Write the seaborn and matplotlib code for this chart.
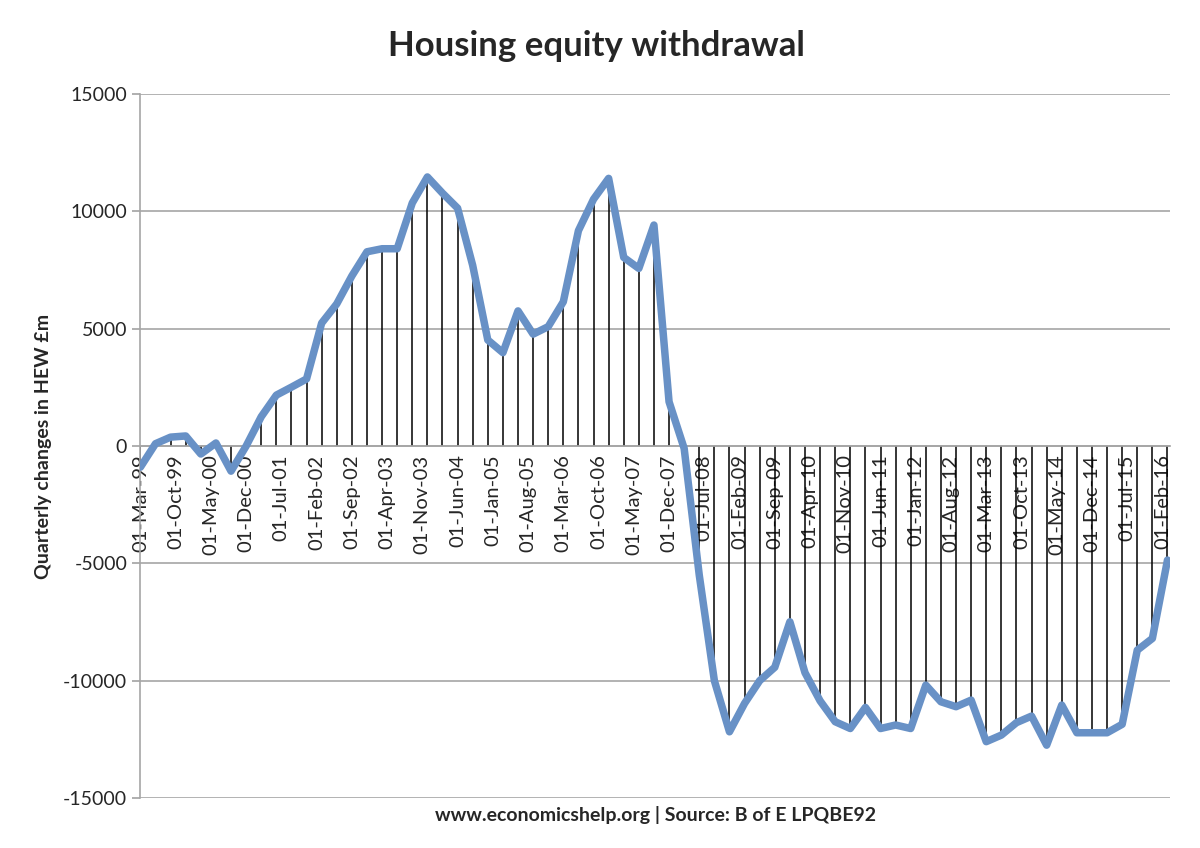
import numpy as np
import pandas as pd
import matplotlib
matplotlib.use("Agg")
import matplotlib.pyplot as plt
import seaborn as sns

sns.set_theme(style="white")
plt.rcParams["font.family"] = ["Lato", "DejaVu Sans"]
plt.rcParams["axes.unicode_minus"] = False

# Quarterly changes in housing equity withdrawal, £m (Mar-99 onwards)
hew_values = [
    -900, 100, 380, 430, -340, 130, -1070, 0, 1250, 2170,
    2510, 2860, 5240, 6060, 7250, 8280, 8410, 8410, 10360, 11470,
    10780, 10140, 7700, 4520, 3980, 5760, 4770, 5090, 6150, 9180,
    10520, 11410, 8040, 7570, 9420, 1890, -100, -5500, -10000, -12180,
    -10970, -10000, -9430, -7490, -9660, -10860, -11750, -12040, -11140, -12040,
    -11890, -12040, -10190, -10900, -11110, -10830, -12600, -12320, -11790, -11510,
    -12750, -11040, -12220, -12220, -12220, -11860, -8700, -8200, -4860,
]
# months since Mar-99, one point per quarter
months = [3 * i for i in range(len(hew_values))]

tick_labels = [
    "01-Mar-99", "01-Oct-99", "01-May-00", "01-Dec-00", "01-Jul-01", "01-Feb-02",
    "01-Sep-02", "01-Apr-03", "01-Nov-03", "01-Jun-04", "01-Jan-05", "01-Aug-05",
    "01-Mar-06", "01-Oct-06", "01-May-07", "01-Dec-07", "01-Jul-08", "01-Feb-09",
    "01-Sep-09", "01-Apr-10", "01-Nov-10", "01-Jun-11", "01-Jan-12", "01-Aug-12",
    "01-Mar-13", "01-Oct-13", "01-May-14", "01-Dec-14", "01-Jul-15", "01-Feb-16",
]
tick_months = [7 * i for i in range(len(tick_labels))]

df = pd.DataFrame({"month": months, "hew": hew_values})

fig = plt.figure(figsize=(12, 8.48), dpi=100)
ax = fig.add_axes([0.117, 0.059, 0.858, 0.830])

# category axis crosses at zero (set before ticks, it resets them)
ax.spines["bottom"].set_position(("data", 0))
ax.spines["bottom"].set_color("#a6a6a6")
ax.spines["left"].set_color("#a6a6a6")
ax.spines["left"].set_linewidth(1.2)
ax.spines["top"].set_visible(False)
ax.spines["right"].set_visible(False)

# drop lines to the zero axis
ax.vlines(df["month"], 0, df["hew"], color="black", linewidth=1.1, zorder=2)
sns.lineplot(data=df, x="month", y="hew", ax=ax, color="#6891c6",
             linewidth=5.4, zorder=3, solid_joinstyle="round")

ax.set_ylim(-15000, 15000)
ax.set_xlim(0, months[-1] + 0.5)
ax.set_yticks(np.arange(-15000, 15001, 5000))
ax.yaxis.grid(True, color="#a6a6a6", linewidth=1.2)
ax.set_axisbelow(True)

ax.set_xticks(tick_months)
ax.set_xticklabels(tick_labels, rotation=90, fontsize=14.5, va="top", ha="center")
ax.tick_params(axis="x", length=4, color="#808080", pad=2)
ax.tick_params(axis="y", length=6, color="#a6a6a6", labelsize=14, direction="out", left=True)

fig.suptitle("Housing equity withdrawal", x=0.497, y=0.965, fontsize=25, fontweight="bold")
ax.set_ylabel("Quarterly changes in HEW £m", fontsize=14, fontweight="bold", labelpad=8)
ax.set_xlabel("www.economicshelp.org | Source: B of E LPQBE92", fontsize=14, fontweight="bold")
ax.xaxis.set_label_coords(0.5, -0.012)
ax.xaxis.label.set_va("top")

fig.savefig("out.png", dpi=100)
plt.close(fig)
